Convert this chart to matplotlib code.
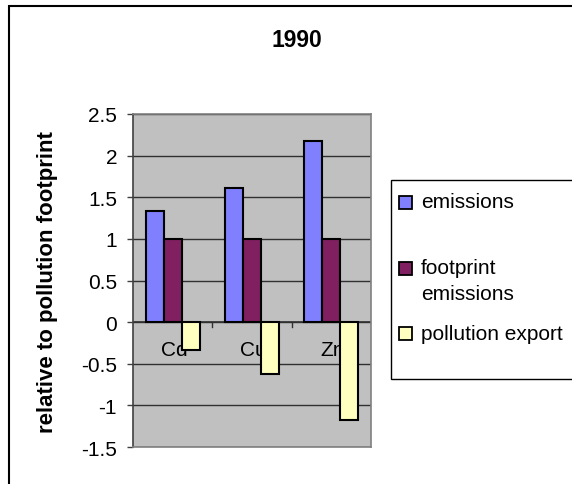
import matplotlib
matplotlib.use("Agg")
import matplotlib.pyplot as plt
import numpy as np
from matplotlib.patches import Rectangle

plt.rcParams['font.family'] = ['Liberation Sans', 'DejaVu Sans']

categories = ["Cd", "Cu", "Zn"]
emissions = [1.33, 1.61, 2.17]
footprint_emissions = [1.0, 1.0, 1.0]
pollution_export = [-0.33, -0.62, -1.17]
series_names = ["emissions", "footprint\nemissions", "pollution export"]
colors = ["#8080FF", "#802060", "#FFFFC0"]
yticks = [-1.5, -1, -0.5, 0, 0.5, 1, 1.5, 2, 2.5]
title = "1990"
ylabel = "relative to pollution footprint"

W, H = 572, 485
fig = plt.figure(figsize=(W/100, H/100), dpi=100)

# outer chart border
fig.patches.append(Rectangle((9/W, -0.1), 1.2, 1 - 7/H + 0.1, transform=fig.transFigure,
                             fill=False, edgecolor="black", linewidth=1.5, zorder=0))

ax = fig.add_axes([133/W, 1 - 448/H, (371-133)/W, 333/H])
ax.set_facecolor("#C0C0C0")

x = np.arange(len(categories))
bw = 0.227
series = [emissions, footprint_emissions, pollution_export]
for i, (vals, c) in enumerate(zip(series, colors)):
    ax.bar(x + (i - 1) * bw, vals, width=bw, color=c, edgecolor="black",
           linewidth=1.5, zorder=3)

ax.set_xlim(-0.5, len(categories) - 0.5)
ax.set_ylim(-1.5, 2.5)
ax.set_yticks(yticks)
ax.set_yticklabels([("%g" % v) for v in yticks], fontsize=15)
ax.tick_params(axis="y", direction="out", length=4.5, width=1, color="#404040", pad=7)
for v in yticks:
    ax.axhline(v, color="#303030", linewidth=1, zorder=1)

# x axis at zero
ax.set_xticks([])
ax.axhline(0, color="#303030", linewidth=1.2, zorder=2)
for b in [0.5, 1.5]:
    ax.plot([b, b], [0, -0.06], color="#303030", linewidth=1, zorder=2)
for xi, cat in zip(x, categories):
    ax.text(xi + 0.02, -0.22, cat, ha="center", va="top", fontsize=15, zorder=2.5)

for s in ["top", "right", "bottom"]:
    ax.spines[s].set_color("#808080")
    ax.spines[s].set_linewidth(1.2)
ax.spines["left"].set_color("#404040")
ax.spines["left"].set_linewidth(1.2)

fig.text(47.5/W, 1 - 282/H, ylabel, rotation=90, ha="center", va="center",
         fontsize=16, fontweight="bold")

fig.text(297/W, 1 - 40.5/H, title, ha="center", va="center", fontsize=16.5, fontweight="bold")

# legend box
lx0, ly0, lx1, ly1 = 391, 181, 600, 380
fig.patches.append(Rectangle((lx0/W, 1 - ly1/H), (lx1-lx0)/W, (ly1-ly0)/H,
                             transform=fig.transFigure, facecolor="white",
                             edgecolor="black", linewidth=1, zorder=1))
entry_y = [203, 269, 334]
line_step = 26
for name, c, yy in zip(series_names, colors, entry_y):
    fig.patches.append(Rectangle((399/W, 1 - (yy + 7)/H), 13/W, 13/H,
                                 transform=fig.transFigure, facecolor=c,
                                 edgecolor="black", linewidth=1.3, zorder=2))
    for k, line in enumerate(name.split("\n")):
        fig.text(421/W, 1 - (yy + k * line_step)/H, line, ha="left", va="center",
                 fontsize=15, zorder=3)

fig.savefig("out.png", dpi=100)
